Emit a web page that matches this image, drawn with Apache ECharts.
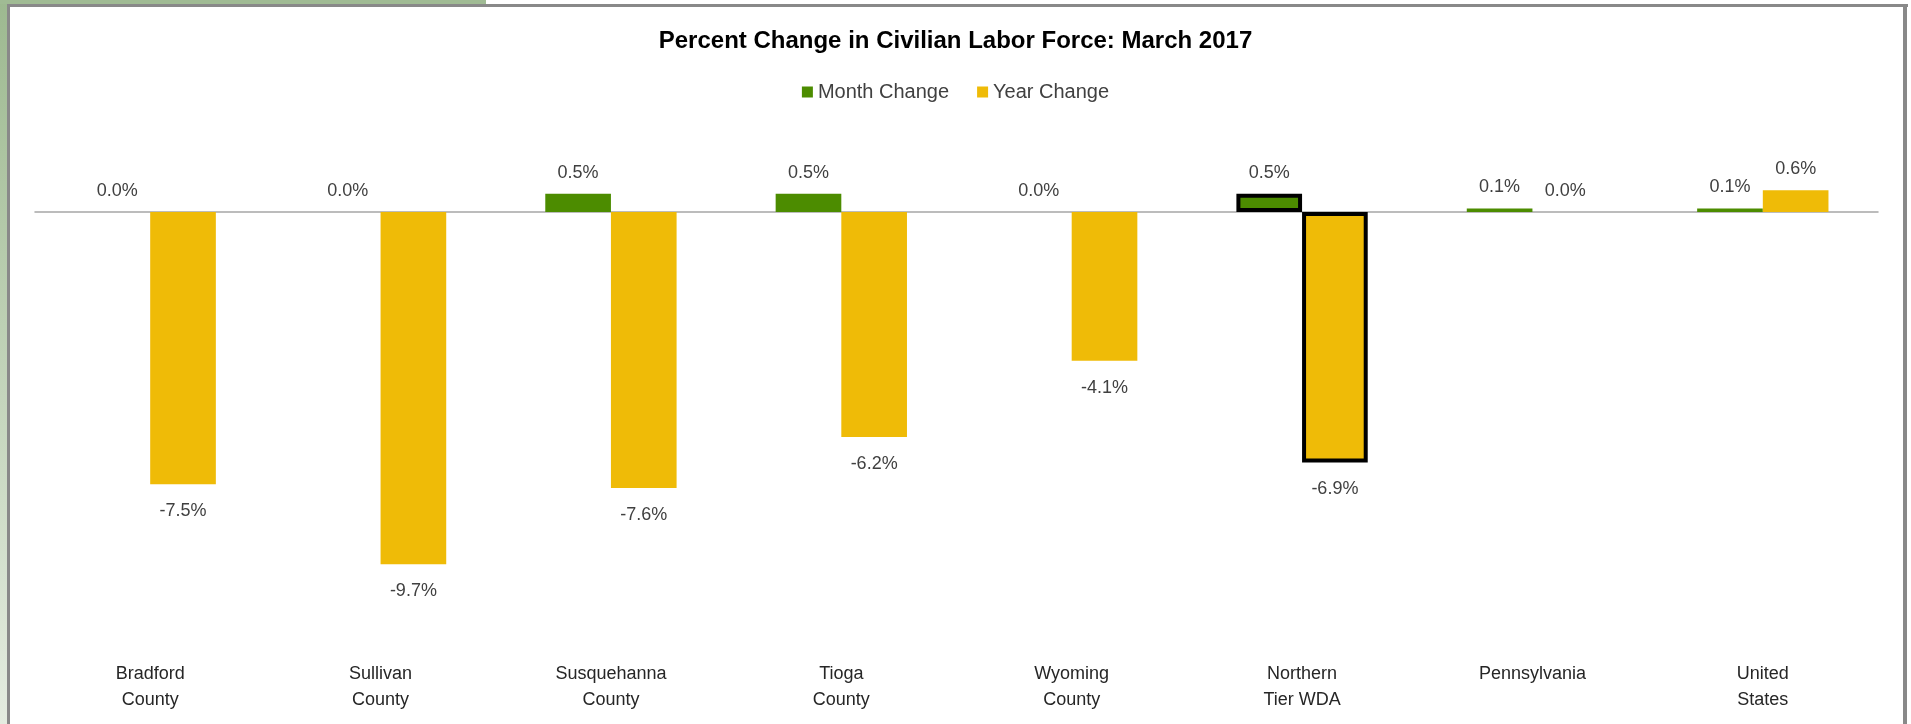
<!DOCTYPE html>
<html>
<head>
<meta charset="utf-8">
<script src="https://cdn.jsdelivr.net/npm/echarts@6/dist/echarts.min.js"></script>
<style>
html,body{margin:0;padding:0;background:#fff;}
#chart{width:1911px;height:724px;}
</style>
</head>
<body>
<div id="chart"></div>
<script>
const categories = ['Bradford\nCounty','Sullivan\nCounty','Susquehanna\nCounty','Tioga\nCounty','Wyoming\nCounty','Northern\nTier WDA','Pennsylvania','United\nStates'];
const monthChange = [0.0, 0.0, 0.5, 0.5, 0.0, 0.5, 0.1, 0.1];
const yearChange = [-7.5, -9.7, -7.6, -6.2, -4.1, -6.9, 0.0, 0.6];
const highlightIndex = 5;

const FONT = '"Liberation Sans", Arial, sans-serif';
const GREEN = '#4C8C00';
const YELLOW = '#EFBB07';

function buildData(vals) {
  return vals.map((v, i) => {
    const item = {
      value: v,
      label: v < 0 ? { position: 'bottom', distance: 18 } : { position: 'top', distance: 12 }
    };
    if (i === highlightIndex) {
      item.itemStyle = { borderColor: '#000', borderWidth: 4 };
    }
    return item;
  });
}

const chart = echarts.init(document.getElementById('chart'), null, { renderer: 'canvas' });
const labelStyle = {
  show: true,
  color: '#404040',
  fontFamily: FONT,
  fontSize: 18,
  formatter: p => p.value.toFixed(1) + '%'
};

chart.setOption({
  animation: false,
  backgroundColor: '#fff',
  textStyle: { fontFamily: FONT },
  graphic: [
    { type: 'rect', shape: { x: 0, y: 0, width: 7, height: 724 }, style: { fill: new echarts.graphic.LinearGradient(0, 0, 0, 1, [{ offset: 0, color: '#9DB990' }, { offset: 1, color: '#E4ECE0' }]) }, z: 100 },
    { type: 'rect', shape: { x: 0, y: 0, width: 486, height: 4 }, style: { fill: '#A0BB94' }, z: 100 },
    { type: 'rect', shape: { x: 7, y: 4, width: 1901, height: 3 }, style: { fill: '#898989' }, z: 101 },
    { type: 'rect', shape: { x: 7, y: 4, width: 3, height: 720 }, style: { fill: '#898989' }, z: 101 },
    { type: 'rect', shape: { x: 1903, y: 4, width: 4, height: 720 }, style: { fill: '#898989' }, z: 101 }
  ],
  title: {
    text: 'Percent Change in Civilian Labor Force: March 2017',
    left: 'center',
    top: 24,
    textStyle: { fontFamily: FONT, fontSize: 24, fontWeight: 'bold', color: '#000' }
  },
  legend: {
    top: 77,
    left: 'center',
    icon: 'rect',
    itemWidth: 11,
    itemHeight: 11,
    itemGap: 28,
    textStyle: { fontFamily: FONT, fontSize: 20, color: '#404040' },
    data: ['Month Change', 'Year Change']
  },
  grid: { left: 35, right: 33, top: 175.7, height: 472, containLabel: false },
  xAxis: [
    {
      type: 'category',
      data: categories,
      position: 'bottom',
      axisLine: { show: true, onZero: true, lineStyle: { color: '#A6A6A6', width: 1.5 } },
      axisTick: { show: false },
      axisLabel: { show: false },
      splitLine: { show: false }
    },
    {
      type: 'category',
      data: categories,
      position: 'bottom',
      axisLine: { show: false, onZero: false },
      axisTick: { show: false },
      axisLabel: { show: true, margin: 14, color: '#262626', fontFamily: FONT, fontSize: 18, lineHeight: 25.5, interval: 0 },
      splitLine: { show: false }
    }
  ],
  yAxis: {
    type: 'value',
    min: -12,
    max: 1,
    show: false,
    splitLine: { show: false }
  },
  series: [
    {
      name: 'Month Change',
      type: 'bar',
      xAxisIndex: 0,
      data: buildData(monthChange),
      itemStyle: { color: GREEN },
      barGap: '0%',
      barCategoryGap: '43%',
      label: labelStyle
    },
    {
      name: 'Year Change',
      type: 'bar',
      xAxisIndex: 0,
      data: buildData(yearChange),
      itemStyle: { color: YELLOW },
      barGap: '0%',
      barCategoryGap: '43%',
      label: labelStyle
    }
  ]
});
</script>
</body>
</html>
